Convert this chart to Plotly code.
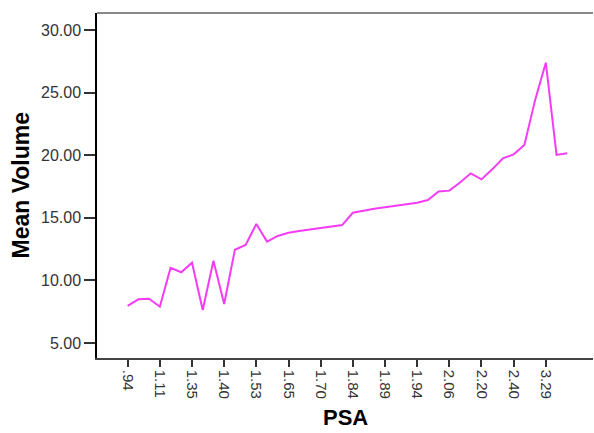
import plotly.graph_objects as go

# 42 PSA categories (only every third is labelled on the axis)
tick_positions = [0, 3, 6, 9, 12, 15, 18, 21, 24, 27, 30, 33, 36, 39]
tick_labels = [".94", "1.11", "1.35", "1.40", "1.53", "1.65", "1.70",
               "1.84", "1.89", "1.94", "2.06", "2.20", "2.40", "3.29"]

mean_volume = [7.96, 8.49, 8.54, 7.90, 11.00, 10.65, 11.41, 7.64, 11.57, 8.11,
               12.45, 12.83, 14.50, 13.10, 13.55, 13.81, 13.95, 14.08, 14.20, 14.29,
               14.42, 15.40, 15.57, 15.73, 15.84, 15.94, 16.05, 16.20, 16.42, 17.11,
               17.17, 17.82, 18.55, 18.07, 18.87, 19.75, 20.07, 20.81, 24.40, 27.39,
               20.02, 20.15]
category_index = list(range(len(mean_volume)))

fig = go.Figure()
fig.add_trace(go.Scatter(
    x=category_index, y=mean_volume, mode="lines",
    line=dict(color="#f53cf5", width=2),
    showlegend=False, hoverinfo="skip",
))

fig.update_layout(
    width=594, height=433,
    margin=dict(l=97, r=1, t=13, b=75),
    paper_bgcolor="white", plot_bgcolor="white",
    font=dict(family="Liberation Sans, Arial, sans-serif", color="#333333"),
    xaxis=dict(
        range=[-2.86, 43.4], automargin=False,
        tickmode="array", tickvals=tick_positions, ticktext=tick_labels,
        tickangle=90, ticks="outside", ticklen=7, tickwidth=1.5, tickcolor="#333333",
        tickfont=dict(size=15, color="#333333"),
        showline=True, linecolor="#444444", linewidth=1.5,
        showgrid=False, zeroline=False,
    ),
    yaxis=dict(
        range=[3.8, 31.36], automargin=False,
        tickmode="array", tickvals=[5, 10, 15, 20, 25, 30],
        ticktext=["5.00", "10.00", "15.00", "20.00", "25.00", "30.00"],
        ticks="outside", ticklen=11, tickwidth=1.5, tickcolor="#333333",
        tickfont=dict(size=16, color="#333333"),
        showline=True, linecolor="black", linewidth=1.5,
        showgrid=False, zeroline=False,
    ),
    annotations=[
        dict(text="<b>PSA</b>", xref="paper", yref="paper", x=0.5, y=0,
             xanchor="center", yanchor="top", yshift=-45, showarrow=False,
             font=dict(size=22, color="black")),
        dict(text="<b>Mean Volume</b>", xref="paper", yref="paper", x=0, y=0.5,
             xanchor="center", yanchor="middle", xshift=-77, textangle=-90,
             showarrow=False, font=dict(size=23, color="black")),
    ],
    shapes=[dict(type="line", xref="paper", yref="paper", x0=0, x1=1, y0=1, y1=1,
                 line=dict(color="#888888", width=2))],
)

fig.write_html("out.html")
